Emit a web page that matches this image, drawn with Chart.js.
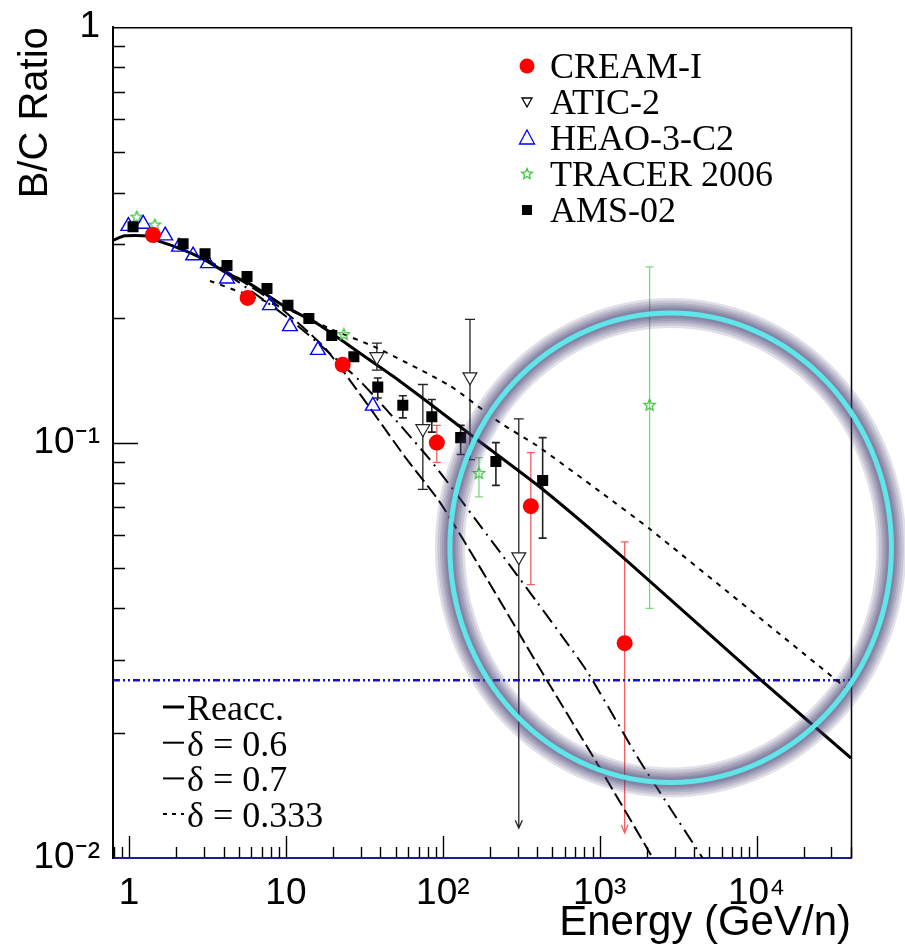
<!DOCTYPE html>
<html>
<head>
<meta charset="utf-8">
<script src="https://cdn.jsdelivr.net/npm/chart.js@4.4.0/dist/chart.umd.min.js"></script>
<style>
  html, body { margin: 0; padding: 0; background: #fff; }
  #wrap { width: 905px; height: 949px; position: relative; }
</style>
</head>
<body>
<div id="wrap"><canvas id="bcChart"></canvas></div>
<script>
// B/C ratio vs energy
const xTicks = [1, 10, 100, 1000, 10000];
const yTicks = [0.01, 0.1, 1];

const seriesNames = ["CREAM-I", "ATIC-2", "HEAO-3-C2", "TRACER 2006", "AMS-02"];
const modelNames = ["Reacc.", "\u03b4 = 0.6", "\u03b4 = 0.7", "\u03b4 = 0.333"];

const creamE = [1.42, 5.7, 23, 91.6, 364, 1443];
const creamR = [0.316, 0.223, 0.154, 0.100, 0.0703, 0.0329];
const creamHi = [null, null, null, 0.110, 0.0946, 0.0577];
const creamLo = [null, null, null, 0.0896, 0.0455, 0.0115];
const creamLimit = [false, false, false, false, false, true];

const aticE = [38, 74.6, 149, 305];
const aticR = [0.161, 0.108, 0.144, 0.0531];
const aticHi = [0.1735, 0.138, 0.198, 0.114];
const aticLo = [0.1495, 0.0772, 0.091, 0.0118];
const aticLimit = [false, false, false, true];

const heaoE = [0.99, 1.23, 1.70, 2.08, 2.56, 3.18, 4.21, 7.91, 10.6, 16.0, 35.8];
const heaoR = [0.332, 0.336, 0.315, 0.296, 0.282, 0.270, 0.248, 0.214, 0.1905, 0.167, 0.1226];

const tracerE = [1.12, 1.46, 23.4, 170, 2081];
const tracerR = [0.349, 0.334, 0.182, 0.0843, 0.123];
const tracerHi = [null, null, null, 0.092, 0.265];
const tracerLo = [null, null, null, 0.074, 0.0399];

const amsE = [1.06, 2.21, 3.05, 4.21, 5.65, 7.57, 10.3, 14.0, 19.6, 27.1, 38.5, 55.6, 85.1, 130, 218, 433];
const amsR = [0.331, 0.301, 0.285, 0.267, 0.251, 0.235, 0.214, 0.199, 0.181, 0.161, 0.136, 0.123, 0.1154, 0.1028, 0.0901, 0.0811];
const amsHi = [null, null, null, null, null, null, null, null, null, null, 0.143, 0.1296, 0.127, 0.110, 0.100, 0.1028];
const amsLo = [null, null, null, null, null, null, null, null, null, null, 0.128, 0.1147, 0.106, 0.0936, 0.0789, 0.0589];

// model curves
const reaccE = [0.79, 0.94, 1.26, 1.53, 1.88, 2.52, 3.18, 4.27, 5.9, 9.57, 15.8, 25.6, 48, 91.6, 165, 433, 1443, 10450, 40000];
const reaccR = [0.307, 0.3146, 0.3146, 0.306, 0.298, 0.285, 0.2725, 0.255, 0.241, 0.214, 0.1935, 0.1706, 0.1446, 0.1205, 0.1017, 0.0772, 0.0525, 0.027, 0.0174];

const d06E = [3.0, 10.6, 29.6, 82.6, 172, 397, 827, 1798, 4530, 5500];
const d06R = [0.279, 0.198, 0.1407, 0.0911, 0.0633, 0.0414, 0.0282, 0.01715, 0.01, 0.0089];

const d07E = [3.0, 7.91, 18.2, 59.0, 95.7, 191, 415, 1000, 2180, 2600];
const d07R = [0.279, 0.221, 0.167, 0.0911, 0.0719, 0.047, 0.0286, 0.0165, 0.01, 0.0089];

const d0333E = [3.28, 11.7, 19.1, 38.0, 111, 231, 397, 1000, 2080, 40000];
const d0333R = [0.245, 0.205, 0.188, 0.169, 0.137, 0.1117, 0.0984, 0.0763, 0.0620, 0.0251];

const limitLevel = 0.0268;

// highlighted region (data-space bounds: E left, E right, R top, R bottom)
const ringBounds = [111, 72400, 0.205, 0.0152];

const xMin = 0.79, xMax = 40000, yMin = 0.01, yMax = 1;

const pts = (e, r) => e.map((v, i) => ({x: v, y: r[i]}));

function starImage(size, color) {
    const c = document.createElement("canvas");
    c.width = size; c.height = size;
    const g = c.getContext("2d");
    const cx = size / 2, cy = size / 2, ro = size / 2 - 1.5, ri = ro * 0.45;
    g.beginPath();
    for (let i = 0; i < 10; i++) {
        const r = i % 2 ? ri : ro;
        const a = -Math.PI / 2 + i * Math.PI / 5;
        g.lineTo(cx + r * Math.cos(a), cy + r * Math.sin(a));
    }
    g.closePath();
    g.strokeStyle = color;
    g.lineWidth = 1.3;
    g.stroke();
    return c;
}
const starBig = starImage(15, "#3fc43f");
const starSmall = starImage(14, "#3fc43f");

const errorSets = [
    {e: tracerE, hi: tracerHi, lo: tracerLo, color: "#7fd67f", width: 1.3, cap: 4},
    {e: aticE, hi: aticHi, lo: aticLo, limit: aticLimit, color: "#222", width: 1.3, cap: 5},
    {e: amsE, hi: amsHi, lo: amsLo, color: "#222", width: 1.6, cap: 4},
    {e: creamE, hi: creamHi, lo: creamLo, limit: creamLimit, color: "#f26060", width: 1.3, cap: 4}
];

const errorBars = {
    id: "errorBars",
    beforeDatasetsDraw(chart) {
        const {ctx, chartArea, scales} = chart;
        ctx.save();
        ctx.beginPath();
        ctx.rect(chartArea.left, chartArea.top, chartArea.right - chartArea.left, chartArea.bottom - chartArea.top);
        ctx.clip();
        errorSets.forEach(s => {
            ctx.strokeStyle = s.color;
            ctx.lineWidth = s.width;
            s.e.forEach((e, i) => {
                if (s.hi[i] == null) return;
                const px = scales.x.getPixelForValue(e);
                const top = scales.y.getPixelForValue(s.hi[i]);
                const bot = scales.y.getPixelForValue(s.lo[i]);
                ctx.beginPath();
                ctx.moveTo(px, top); ctx.lineTo(px, bot);
                ctx.moveTo(px - s.cap, top); ctx.lineTo(px + s.cap, top);
                if (s.limit && s.limit[i]) {
                    ctx.moveTo(px - 3.5, bot - 8); ctx.lineTo(px, bot); ctx.lineTo(px + 3.5, bot - 8);
                } else {
                    ctx.moveTo(px - s.cap, bot); ctx.lineTo(px + s.cap, bot);
                }
                ctx.stroke();
            });
        });
        ctx.restore();
    }
};

const ringAndFrame = {
    id: "ringAndFrame",
    afterDatasetsDraw(chart) {
        const {ctx, chartArea, scales} = chart;
        const x = scales.x, y = scales.y;
        // inward ticks, ROOT style
        ctx.save();
        ctx.strokeStyle = "#000";
        ctx.lineWidth = 1.4;
        ctx.beginPath();
        for (let n = -1; n <= 4; n++) {
            for (let k = 1; k <= 9; k++) {
                const v = k * Math.pow(10, n);
                if (v < xMin || v > xMax) continue;
                const px = Math.round(x.getPixelForValue(v)) + 0.5;
                ctx.moveTo(px, chartArea.bottom);
                ctx.lineTo(px, chartArea.bottom - (k === 1 ? 22 : 11));
            }
        }
        for (let n = -2; n <= -1; n++) {
            for (let k = 1; k <= 9; k++) {
                const v = k * Math.pow(10, n);
                if (v <= yMin || v >= yMax) continue;
                const py = Math.round(y.getPixelForValue(v)) + 0.5;
                ctx.moveTo(chartArea.left, py);
                ctx.lineTo(chartArea.left + (k === 1 ? 25 : 12), py);
            }
        }
        ctx.stroke();
        // top / right frame
        ctx.lineWidth = 1.5;
        ctx.beginPath();
        ctx.moveTo(chartArea.left, chartArea.top + 0.5);
        ctx.lineTo(chartArea.right + 0.5, chartArea.top + 0.5);
        ctx.lineTo(chartArea.right + 0.5, chartArea.bottom);
        ctx.stroke();
        ctx.restore();

        // highlight ring, soft dark glow built from layered strokes
        const l = x.getPixelForValue(ringBounds[0]), r = x.getPixelForValue(ringBounds[1]);
        const t = y.getPixelForValue(ringBounds[2]), b = y.getPixelForValue(ringBounds[3]);
        const cx = (l + r) / 2, cy = (t + b) / 2, rx = (r - l) / 2, ry = (b - t) / 2;
        ctx.save();
        [30, 25, 20, 16, 12, 9].forEach(w => {
            ctx.strokeStyle = "rgba(70,62,115,0.16)";
            ctx.lineWidth = w;
            ctx.beginPath();
            ctx.ellipse(cx, cy, rx, ry, 0, 0, Math.PI * 2);
            ctx.stroke();
        });
        ctx.strokeStyle = "#5fe6ea";
        ctx.lineWidth = 5;
        ctx.beginPath();
        ctx.ellipse(cx, cy, rx, ry, 0, 0, Math.PI * 2);
        ctx.stroke();
        ctx.restore();
    }
};

function legendMarker(ctx, kind, x, y) {
    ctx.save();
    ctx.lineWidth = 1.3;
    if (kind === 0) {
        ctx.fillStyle = "#ff0000";
        ctx.beginPath(); ctx.arc(x, y, 7.5, 0, Math.PI * 2); ctx.fill();
    } else if (kind === 1) {
        ctx.strokeStyle = "#000";
        ctx.beginPath(); ctx.moveTo(x - 5, y - 4); ctx.lineTo(x + 5, y - 4); ctx.lineTo(x, y + 5); ctx.closePath(); ctx.stroke();
    } else if (kind === 2) {
        ctx.strokeStyle = "#0000ff";
        ctx.beginPath(); ctx.moveTo(x, y - 8); ctx.lineTo(x + 7.5, y + 6); ctx.lineTo(x - 7.5, y + 6); ctx.closePath(); ctx.stroke();
    } else if (kind === 3) {
        ctx.drawImage(starSmall, x - 7, y - 7);
    } else {
        ctx.fillStyle = "#000";
        ctx.fillRect(x - 5, y - 5, 10, 10);
    }
    ctx.restore();
}

const legends = {
    id: "legends",
    afterDraw(chart) {
        const ctx = chart.ctx;
        ctx.save();
        ctx.font = '36px "Liberation Serif"';
        ctx.fillStyle = "#000";
        ctx.textBaseline = "alphabetic";
        seriesNames.forEach((name, i) => {
            const base = 78 + i * 36;
            legendMarker(ctx, i, 527, base - 12);
            ctx.fillText(name, 550, base);
        });
        modelNames.forEach((name, i) => {
            const base = 720 + i * 35.7;
            const ly = base - 13;
            ctx.strokeStyle = "#000";
            ctx.lineWidth = i === 0 ? 3 : 2;
            ctx.setLineDash(i === 3 ? [4, 5] : []);
            ctx.beginPath();
            ctx.moveTo(163, ly); ctx.lineTo(184, ly);
            ctx.stroke();
            ctx.setLineDash([]);
            ctx.fillText(name, 187, base);
        });
        ctx.restore();
    }
};

const supers = {"-": "\u207b", "1": "\u00b9", "2": "\u00b2", "3": "\u00b3", "4": "\u2074"};
function decadeLabel(v) {
    const p = Math.round(Math.log10(v));
    if (p === 0) return "1";
    if (p === 1) return "10";
    return "10" + String(p).split("").map(c => supers[c]).join("");
}

const CHART = document.getElementById("bcChart");
let bcChart = new Chart(CHART, {
    type: 'scatter',
    data: {
        datasets: [
            {
                label: seriesNames[0],
                data: pts(creamE, creamR),
                pointStyle: 'circle',
                pointRadius: 8,
                pointHoverRadius: 8,
                backgroundColor: "#ff0000",
                borderColor: "#ff0000",
                borderWidth: 0
            },
            {
                label: seriesNames[1],
                data: pts(aticE, aticR),
                pointStyle: 'triangle',
                rotation: 180,
                pointRadius: 8,
                pointHoverRadius: 8,
                backgroundColor: "#fff",
                borderColor: "#222",
                borderWidth: 1.2
            },
            {
                label: seriesNames[4],
                data: pts(amsE, amsR),
                pointStyle: 'rect',
                pointRadius: 7.8,
                pointHoverRadius: 7.8,
                backgroundColor: "#000",
                borderColor: "#000",
                borderWidth: 0
            },
            {
                label: seriesNames[2],
                data: pts(heaoE, heaoR),
                pointStyle: 'triangle',
                pointRadius: 8.5,
                pointHoverRadius: 8.5,
                backgroundColor: "rgba(0,0,0,0)",
                borderColor: "#0000ff",
                borderWidth: 1.4
            },
            {
                label: seriesNames[3],
                data: pts(tracerE, tracerR),
                pointStyle: starBig,
                pointRadius: 8,
                pointHoverRadius: 8
            },
            {
                label: modelNames[0],
                data: pts(reaccE, reaccR),
                showLine: true,
                pointRadius: 0,
                borderColor: "#000",
                borderWidth: 3,
                tension: 0.2
            },
            {
                label: modelNames[1],
                data: pts(d06E, d06R),
                showLine: true,
                pointRadius: 0,
                borderColor: "#000",
                borderWidth: 2,
                borderDash: [15, 6, 2, 6],
                tension: 0.2
            },
            {
                label: modelNames[2],
                data: pts(d07E, d07R),
                showLine: true,
                pointRadius: 0,
                borderColor: "#000",
                borderWidth: 2,
                borderDash: [14, 5],
                tension: 0.2
            },
            {
                label: modelNames[3],
                data: pts(d0333E, d0333R),
                showLine: true,
                pointRadius: 0,
                borderColor: "#000",
                borderWidth: 2,
                borderDash: [5, 6],
                tension: 0.2
            },
            {
                label: "limit",
                data: pts([xMin, xMax], [limitLevel, limitLevel]),
                showLine: true,
                pointRadius: 0,
                borderColor: "#1010e0",
                borderWidth: 2.5,
                borderDash: [7, 3, 2, 3, 2, 3]
            }
        ]
    },
    options: {
        responsive: true,
        maintainAspectRatio: false,
        animation: false,
        layout: {padding: {top: 22, right: 54, left: 0, bottom: 0}},
        plugins: {legend: {display: false}, tooltip: {enabled: false}},
        scales: {
            x: {
                type: 'logarithmic',
                min: xMin,
                max: xMax,
                afterBuildTicks: s => { s.ticks = xTicks.map(v => ({value: v})); },
                afterFit: s => { s.height = 91; },
                grid: {display: false},
                border: {display: true, color: "#1c1c9a", width: 2},
                ticks: {
                    autoSkip: false,
                    maxRotation: 0,
                    padding: 6,
                    color: "#000",
                    font: {family: "Liberation Sans", size: 37},
                    callback: v => decadeLabel(v)
                },
                title: {
                    display: true,
                    text: "Energy (GeV/n)",
                    align: 'end',
                    color: "#000",
                    font: {family: "Liberation Sans", size: 42},
                    padding: {top: 0, bottom: 0}
                }
            },
            y: {
                type: 'logarithmic',
                min: yMin,
                max: yMax,
                afterBuildTicks: s => { s.ticks = yTicks.map(v => ({value: v})); },
                afterFit: s => { s.width = 113; },
                grid: {display: false},
                border: {display: true, color: "#000", width: 2},
                ticks: {
                    autoSkip: false,
                    padding: 5,
                    color: "#000",
                    font: {family: "Liberation Sans", size: 37},
                    callback: v => decadeLabel(v)
                },
                title: {
                    display: true,
                    text: "B/C Ratio",
                    align: 'end',
                    color: "#000",
                    font: {family: "Liberation Sans", size: 40},
                    padding: {top: 12, bottom: 0}
                }
            }
        }
    },
    plugins: [errorBars, ringAndFrame, legends]
});
</script>
</body>
</html>
